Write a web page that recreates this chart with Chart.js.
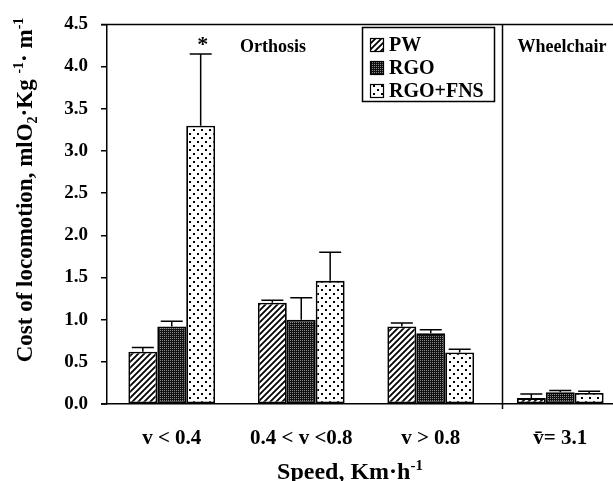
<!DOCTYPE html>
<html><head><meta charset="utf-8">
<script src="https://cdn.jsdelivr.net/npm/chart.js@4"></script>
<style>html,body{margin:0;padding:0;overflow:hidden;background:#fff}canvas{display:block}</style>
</head><body>
<canvas id="c" width="625" height="481"></canvas>
<script>
// ---- data ----
const categories = ['v < 0.4', '0.4 < v <0.8', 'v > 0.8', 'v\u0304= 3.1'];
const seriesNames = ['PW', 'RGO', 'RGO+FNS'];
const pwValues  = [0.62, 1.20, 0.92, 0.07];
const pwErr     = [0.05, 0.03, 0.04, 0.05];
const rgoValues = [0.92, 1.00, 0.84, 0.14];
const rgoErr    = [0.06, 0.26, 0.04, 0.02];
const fnsValues = [3.30, 1.46, 0.61, 0.13];
const fnsErr    = [0.85, 0.34, 0.04, 0.02];
const yMax = 4.5, yStep = 0.5;
const sectionLabels = ['Orthosis', 'Wheelchair'];
const significance = '*';

const FONT = '"Liberation Serif", "Times New Roman", serif';

// ---- patterns ----
function makePattern(w, h, draw) {
  const c = document.createElement('canvas'); c.width = w; c.height = h;
  const g = c.getContext('2d'); draw(g, w, h);
  return document.getElementById('c').getContext('2d').createPattern(c, 'repeat');
}
const hatch = makePattern(6, 6, (g, w, h) => {
  g.fillStyle = '#fff'; g.fillRect(0, 0, w, h);
  g.strokeStyle = '#000'; g.lineWidth = 1.8;
  g.beginPath();
  g.moveTo(-1, h + 1); g.lineTo(w + 1, -1);
  g.moveTo(-1, 1); g.lineTo(1, -1);
  g.moveTo(w - 1, h + 1); g.lineTo(w + 1, h - 1);
  g.stroke();
});
const stipple = makePattern(2, 2, (g, w, h) => {
  g.fillStyle = '#111'; g.fillRect(0, 0, w, h);
  g.fillStyle = '#8a8a8a'; g.fillRect(0, 0, 1, 1);
});
const dots = makePattern(8, 8, (g, w, h) => {
  g.fillStyle = '#fff'; g.fillRect(0, 0, w, h);
  g.fillStyle = '#000'; g.fillRect(1, 1, 2, 2); g.fillRect(5, 5, 2, 2);
});
const fills = [hatch, stipple, dots];
const values = [pwValues, rgoValues, fnsValues];
const errs = [pwErr, rgoErr, fnsErr];

function richText(ctx, segs, x, y, size) {
  let total = 0;
  const ms = segs.map(([t, m]) => {
    const fs = m ? Math.round(size * 0.62) : size;
    ctx.font = 'bold ' + fs + 'px ' + FONT;
    const w = ctx.measureText(t).width; total += w; return { t, m, fs, w };
  });
  let cx = x - total / 2;
  ctx.textAlign = 'left'; ctx.textBaseline = 'alphabetic';
  for (const s of ms) {
    ctx.font = 'bold ' + s.fs + 'px ' + FONT;
    const dy = s.m === 1 ? -size * 0.38 : s.m === -1 ? size * 0.2 : 0;
    ctx.fillText(s.t, cx, y + dy); cx += s.w;
  }
}

const decor = {
  id: 'decor',
  afterDatasetsDraw(chart) {
    const ctx = chart.ctx, ca = chart.chartArea;
    const xs = chart.scales.x, ys = chart.scales.y;
    ctx.save();
    ctx.strokeStyle = '#000'; ctx.lineWidth = 1.5;
    for (let d = 0; d < 3; d++) {
      const meta = chart.getDatasetMeta(d);
      meta.data.forEach((el, j) => {
        const top = ys.getPixelForValue(values[d][j] + errs[d][j]);
        const half = Math.min(11, el.width / 2);
        ctx.beginPath();
        ctx.moveTo(el.x, el.y); ctx.lineTo(el.x, top);
        ctx.moveTo(el.x - half, top); ctx.lineTo(el.x + half, top);
        ctx.stroke();
      });
    }
    const e = chart.getDatasetMeta(2).data[0];
    ctx.fillStyle = '#000';
    ctx.font = 'bold 22px ' + FONT; ctx.textAlign = 'center'; ctx.textBaseline = 'middle';
    ctx.fillText(significance, e.x + 2, ys.getPixelForValue(fnsValues[0] + fnsErr[0]) - 9);
    ctx.lineWidth = 1.5;
    ctx.beginPath();
    ctx.moveTo(ca.left - 6, ca.top); ctx.lineTo(ca.right, ca.top);
    const sx = Math.round(xs.getPixelForValue(2.55)) + 0.5;
    ctx.moveTo(sx, ca.top); ctx.lineTo(sx, ca.bottom + 5);
    ctx.moveTo(ca.left - 6, ca.bottom); ctx.lineTo(ca.left, ca.bottom);
    ctx.stroke();
    ctx.font = 'bold 18px ' + FONT; ctx.textAlign = 'center'; ctx.textBaseline = 'middle';
    ctx.fillText(sectionLabels[0], 273, 47);
    ctx.fillText(sectionLabels[1], 562, 47);
    ctx.lineWidth = 1.5;
    ctx.strokeRect(362.5, 27.5, 132, 74);
    ctx.font = 'bold 20px ' + FONT; ctx.textAlign = 'left';
    seriesNames.forEach((n, i) => {
      const cy = 45 + i * 23;
      ctx.fillStyle = fills[i];
      ctx.fillRect(370, cy - 7, 14, 14);
      ctx.strokeStyle = '#000'; ctx.lineWidth = 1.2;
      ctx.strokeRect(370.5, cy - 6.5, 13, 13);
      ctx.fillStyle = '#000';
      ctx.fillText(n, 389, cy + 1);
    });
    richText(ctx, [['Speed, Km\u00b7h', 0], ['-1', 1]], 350, 479, 24);
    ctx.translate(32, 190); ctx.rotate(-Math.PI / 2);
    richText(ctx, [['Cost of locomotion, mlO', 0], ['2', -1], ['\u00b7Kg ', 0], ['-1', 1], ['\u00b7 m', 0], ['-1', 1]], 0, 0, 23);
    ctx.restore();
  }
};

new Chart(document.getElementById('c'), {
  type: 'bar',
  data: {
    labels: categories,
    datasets: seriesNames.map((n, i) => ({
      label: n, data: values[i], backgroundColor: fills[i],
      borderColor: '#000', borderWidth: 1.8, borderSkipped: false,
      categoryPercentage: 0.67, barPercentage: 1.0
    }))
  },
  options: {
    responsive: false, animation: false, devicePixelRatio: 1,
    layout: { padding: { top: 21, right: 0, left: 0, bottom: 0 } },
    plugins: { legend: { display: false }, tooltip: { enabled: false } },
    scales: {
      x: {
        grid: { display: false },
        border: { display: true, color: '#000', width: 1.5 },
        ticks: { color: '#000', font: { family: FONT, size: 21, weight: 'bold' }, padding: 14, maxRotation: 0 },
        afterFit: s => { s.height = 77; }
      },
      y: {
        min: 0, max: yMax,
        grid: { display: true, drawOnChartArea: false, tickLength: 6, color: '#000', lineWidth: 1.5 },
        border: { display: true, color: '#000', width: 1.5 },
        ticks: { stepSize: yStep, color: '#000', padding: 13,
          font: { family: FONT, size: 19, weight: 'bold' },
          callback: v => Number(v).toFixed(1) },
        afterFit: s => { s.width = 107; }
      }
    }
  },
  plugins: [decor]
});
</script>
</body></html>
